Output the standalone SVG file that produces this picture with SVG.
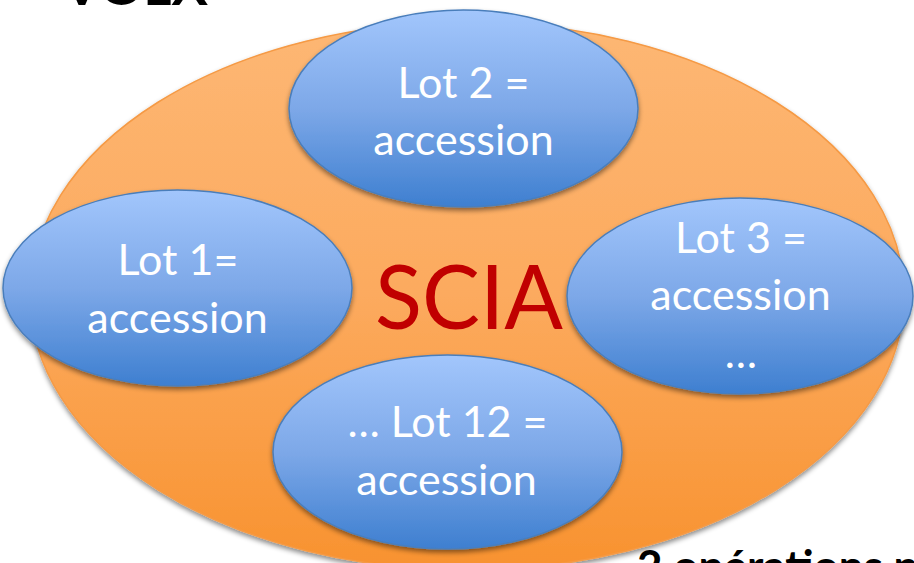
<svg xmlns="http://www.w3.org/2000/svg" width="914" height="563" viewBox="0 0 914 563">
  <style>
    .lot { fill: url(#blueFill); stroke: #4A7EBB; stroke-width: 1.5; filter: url(#shadow); }
    .lbl { font-family: Lato, "Open Sans", sans-serif; font-size: 43px; fill: #FFFFFF; text-anchor: middle; }
    .head { font-family: Lato, "Liberation Sans", sans-serif; font-weight: bold; fill: #000000; }
  </style>
  <defs>
    <linearGradient id="orangeFill" x1="0" y1="0" x2="0" y2="1">
      <stop offset="0" stop-color="#FDB774"/>
      <stop offset="0.5" stop-color="#FCAA5E"/>
      <stop offset="1" stop-color="#F8922F"/>
    </linearGradient>
    <linearGradient id="blueFill" x1="0" y1="0" x2="0" y2="1">
      <stop offset="0" stop-color="#A2C6FC"/>
      <stop offset="0.5" stop-color="#7DA8E8"/>
      <stop offset="1" stop-color="#3E7FD0"/>
    </linearGradient>
    <filter id="shadow" x="-10%" y="-10%" width="120%" height="130%">
      <feDropShadow dx="0" dy="3" stdDeviation="2.5" flood-color="#000000" flood-opacity="0.45"/>
    </filter>
  </defs>

  <!-- headings running off the top and bottom edges -->
  <text class="head" x="63" y="5" font-size="52" textLength="145" lengthAdjust="spacingAndGlyphs">VOLX</text>
  <text class="head" x="637" y="582" font-size="44">2 opérations p</text>

  <!-- company -->
  <g id="scia">
    <ellipse cx="467" cy="296" rx="437" ry="274" fill="url(#orangeFill)" stroke="#F59A45" stroke-width="1.5" filter="url(#shadow)"/>
    <text x="469" y="329" font-family="Lato, 'Open Sans', sans-serif" font-size="89" fill="#C00000" text-anchor="middle" textLength="188" lengthAdjust="spacingAndGlyphs">SCIA</text>
  </g>

  <g id="lot2">
    <ellipse class="lot" cx="463.5" cy="108.5" rx="174.5" ry="98.5"/>
    <text class="lbl" x="463.5" y="98">Lot 2 =</text>
    <text class="lbl" x="463.5" y="155">accession</text>
  </g>

  <g id="lot1">
    <ellipse class="lot" cx="177.5" cy="288" rx="174.5" ry="98"/>
    <text class="lbl" x="178" y="275">Lot 1=</text>
    <text class="lbl" x="177.5" y="333">accession</text>
  </g>

  <g id="lot3">
    <ellipse class="lot" cx="740" cy="296" rx="173" ry="98"/>
    <text class="lbl" x="741" y="253">Lot 3 =</text>
    <text class="lbl" x="740.5" y="310">accession</text>
    <text class="lbl" x="741" y="368">…</text>
  </g>

  <g id="lot12">
    <ellipse class="lot" cx="447.5" cy="452" rx="174.5" ry="97"/>
    <text class="lbl" x="447.5" y="437">… Lot 12 =</text>
    <text class="lbl" x="446.5" y="495">accession</text>
  </g>

  <g id="connectors"/>
</svg>
